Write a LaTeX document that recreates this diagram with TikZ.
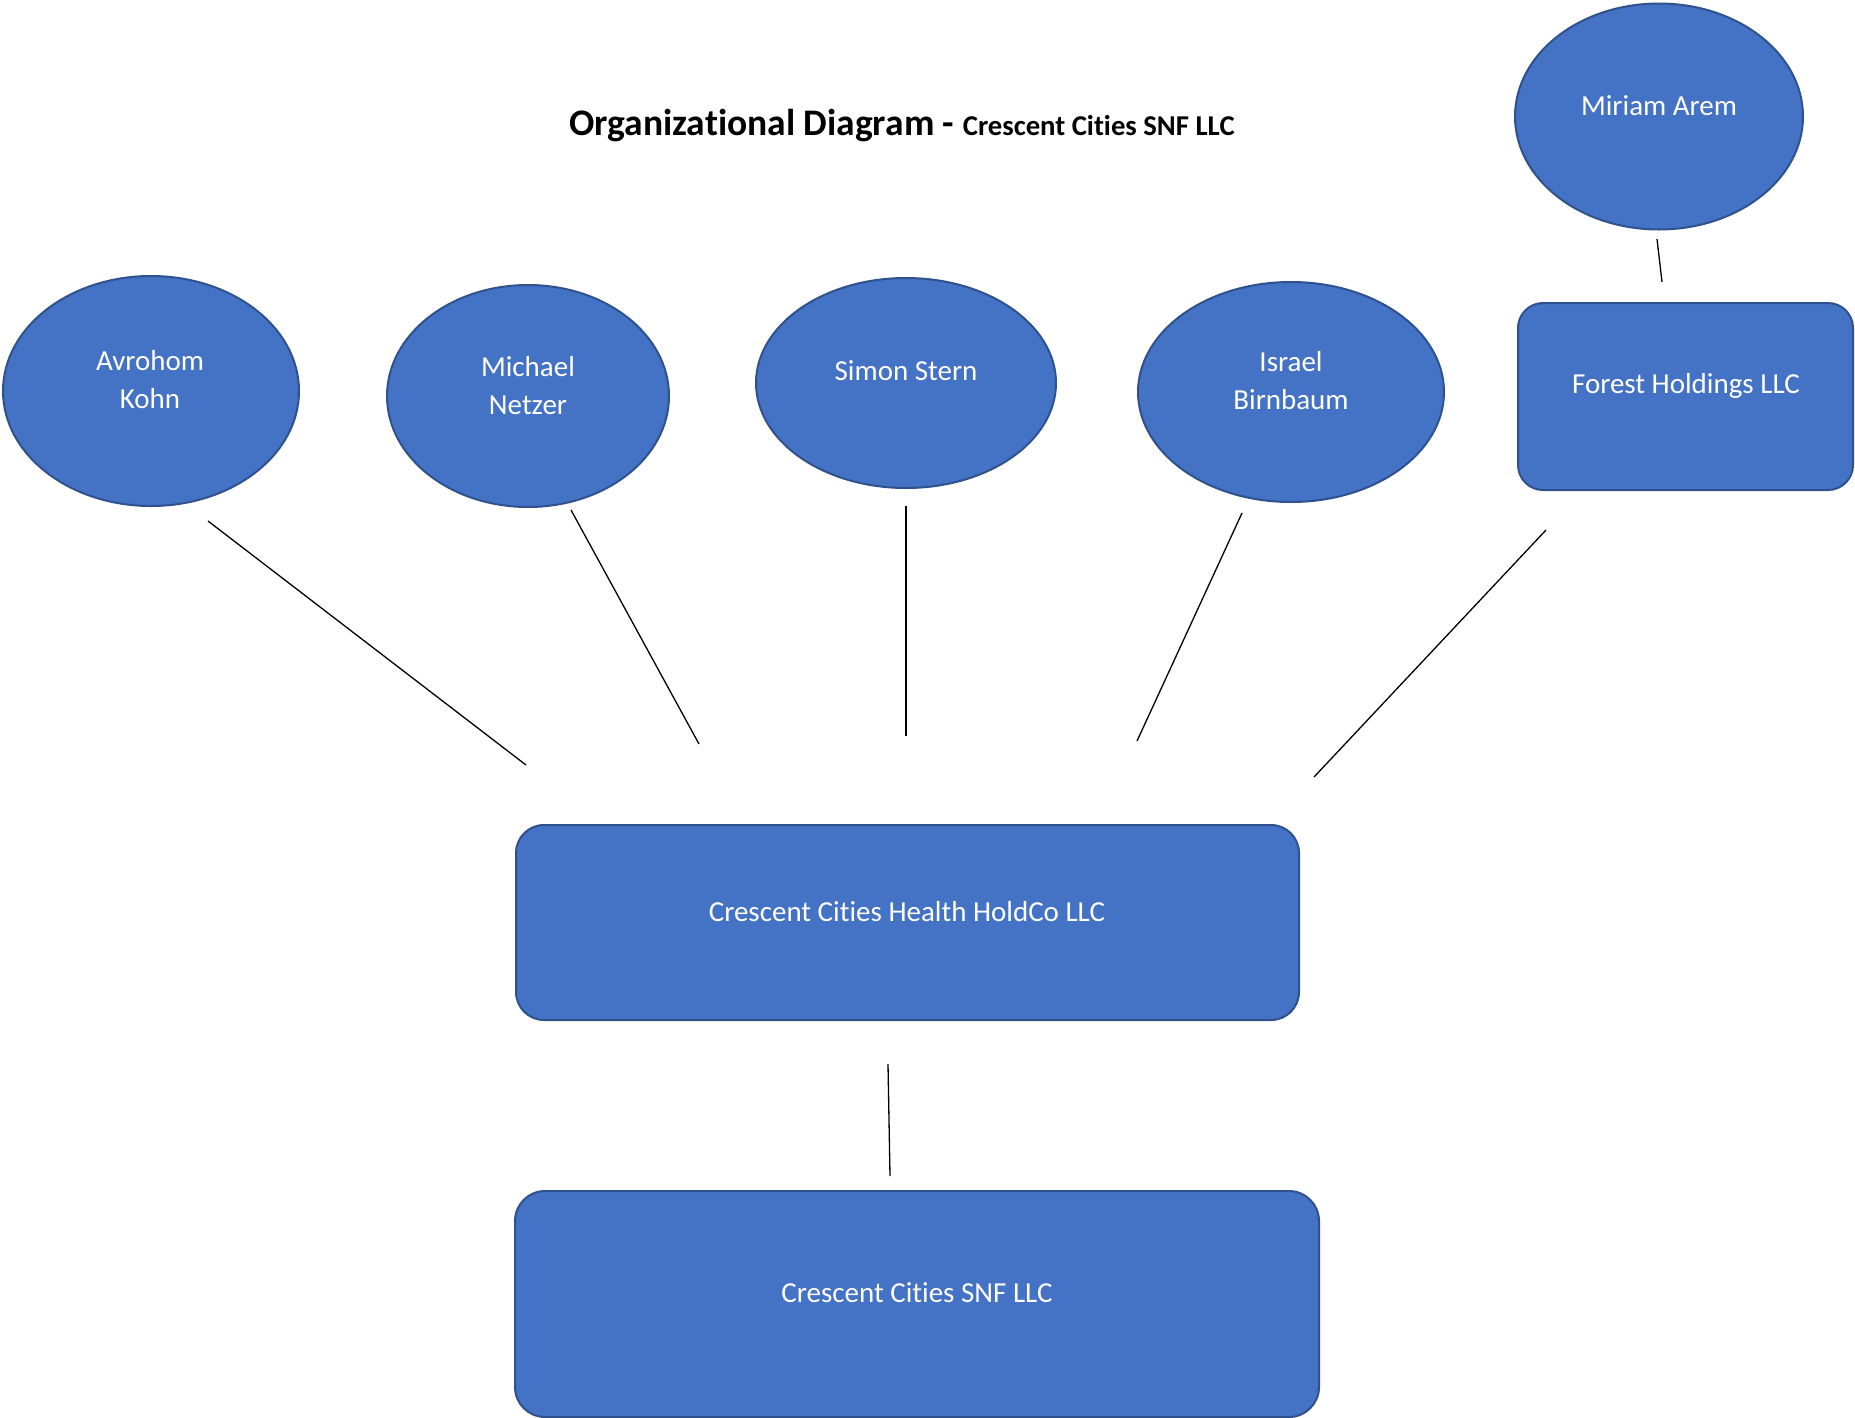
\documentclass[tikz,border=0pt]{standalone}
\usepackage{fontspec}
\setmainfont[Ligatures=NoCommon]{Carlito}
\usetikzlibrary{shapes.geometric}
\definecolor{boxfill}{HTML}{4472C4}
\definecolor{boxline}{HTML}{2F528F}
\tikzset{
  ent/.style={fill=boxfill, draw=boxline, line width=2pt},
  person/.style={ent, ellipse, inner sep=0pt},
  firm/.style={ent, rectangle, rounded corners=28pt, inner sep=0pt},
  lbl/.style={text=white, align=center, font=\fontsize{29}{38}\selectfont, inner sep=0pt},
  link/.style={draw=black, line width=1.3pt}
}
\begin{document}
\begin{tikzpicture}[x=1pt,y=-1pt]
\useasboundingbox (0,0) rectangle (1855,1417);
% title
\node[anchor=west, inner sep=0pt, font=\bfseries] (title) at (569,126)
  {\fontsize{37.5}{42}\selectfont Organizational Diagram - \fontsize{28.7}{32}\selectfont Crescent Cities SNF LLC};
% persons
\node[person, minimum width=296pt, minimum height=230pt] (avro) at (151,391) {};
\node[person, minimum width=282pt, minimum height=222pt] (mich) at (528,396) {};
\node[person, minimum width=300pt, minimum height=210pt] (simon) at (906,383) {};
\node[person, minimum width=306pt, minimum height=220pt] (isr) at (1291,392) {};
\node[person, minimum width=288pt, minimum height=226pt] (miri) at (1659,116.5) {};
% firms
\node[firm, rounded corners=25pt, minimum width=335pt, minimum height=187pt] (forest) at (1685.5,396.5) {};
\node[firm, minimum width=783pt, minimum height=195pt] (holdco) at (907.5,922.5) {};
\node[firm, rounded corners=30pt, minimum width=804pt, minimum height=226pt] (snf) at (917,1304) {};
% labels
\node[lbl] (tavro) at (150,380) {Avrohom\\Kohn};
\node[lbl] (tmich) at (528,385.5) {Michael\\Netzer};
\node[lbl] (tsimon) at (906,371) {Simon Stern};
\node[lbl] (tisr) at (1291,381) {Israel\\Birnbaum};
\node[lbl] (tmiri) at (1659,106) {Miriam Arem};
\node[lbl] (tforest) at (1686,386) {Forest Holdings LLC};
\node[lbl] (tholdco) at (907,912) {Crescent Cities Health HoldCo LLC};
\node[lbl] (tsnf) at (917,1293) {Crescent Cities SNF LLC};
% connector end points
\coordinate (a1) at (208,521); \coordinate (a2) at (526,765);
\coordinate (m1) at (571,510); \coordinate (m2) at (699,744);
\coordinate (s1) at (906,506); \coordinate (s2) at (906,736);
\coordinate (i1) at (1242,513); \coordinate (i2) at (1137,741);
\coordinate (f1) at (1546,530); \coordinate (f2) at (1314,777);
\coordinate (r1) at (1657,239); \coordinate (r2) at (1662,282);
\coordinate (h1) at (888,1064); \coordinate (h2) at (890,1176);
\draw[link] (a1) -- (a2);
\draw[link] (m1) -- (m2);
\draw[link] (s1) -- (s2);
\draw[link] (i1) -- (i2);
\draw[link] (f1) -- (f2);
\draw[link] (r1) -- (r2);
\draw[link] (h1) -- (h2);
\end{tikzpicture}
\end{document}
